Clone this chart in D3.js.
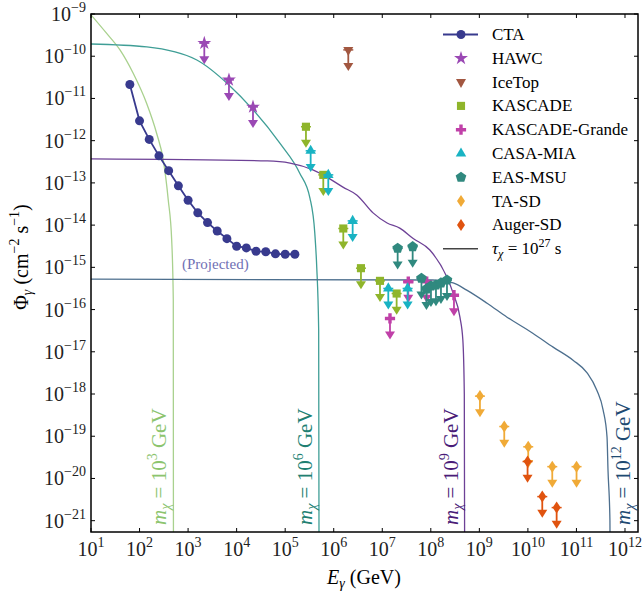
<!DOCTYPE html>
<html><head><meta charset="utf-8">
<script src="https://cdnjs.cloudflare.com/ajax/libs/d3/7.8.5/d3.min.js"></script>
<style>body{margin:0;background:#fff} svg{display:block}</style>
</head><body><svg id="c" width="642" height="591" font-family="Liberation Serif"></svg>
<script>
// ---------- DATA (log10 values) ----------
const xTickExps = [1,2,3,4,5,6,7,8,9,10,11,12];
const yTickExps = [-9,-10,-11,-12,-13,-14,-15,-16,-17,-18,-19,-20,-21];

const ctaLogE   = [1.8,2.0,2.2,2.4,2.6,2.8,3.0,3.2,3.4,3.6,3.8,4.0,4.2,4.4,4.6,4.8,5.0,5.2];
const ctaLogPhi = [-10.67,-11.53,-11.97,-12.36,-12.71,-13.07,-13.41,-13.71,-13.94,-14.14,-14.32,-14.50,-14.54,-14.62,-14.63,-14.68,-14.69,-14.69];

const hawcLogE = [3.334,3.842,4.337];
const hawcLogPhi = [-9.69,-10.56,-11.20];
const icetopLogE = [6.30];
const icetopLogPhi = [-9.85];
const kascadeLogE = [5.428,5.785,6.197,6.561,6.953,7.296];
const kascadeLogPhi = [-11.67,-12.81,-14.08,-15.02,-15.32,-15.62];
const kgLogE = [7.159,7.536,7.915,8.477];
const kgLogPhi = [-16.21,-15.34,-15.34,-15.66];
const casaLogE = [5.525,5.888,6.39,7.124,7.522];
const casaLogPhi = [-12.24,-12.81,-13.90,-15.50,-15.50];
const easLogE = [7.317,7.626,7.807,7.910,8.003,8.106,8.209,8.333];
const easLogPhi = [-14.55,-14.51,-15.26,-15.51,-15.44,-15.42,-15.37,-15.30];
const taLogE = [9.012,9.513,10.007,10.502,11.002];
const taLogPhi = [-18.05,-18.77,-19.25,-19.72,-19.72];
const augerLogE = [9.993,10.296,10.592];
const augerLogPhi = [-19.60,-20.43,-20.69];

// decay spectra, tau = 1e27 s  [logE, logPhi]
const curveM3 = [[1.0,-9.02],[1.323,-9.46],[1.597,-9.85],[1.872,-10.41],[2.147,-11.12],[2.353,-11.83],[2.489,-12.46],[2.592,-13.41],[2.662,-14.35],[2.695,-15.77],[2.699,-23]];
const curveM6 = [[1.0,-9.71],[2.15,-9.78],[3.18,-10.09],[3.84,-10.68],[4.34,-11.27],[4.89,-12.06],[5.30,-12.77],[5.51,-13.36],[5.61,-14.19],[5.65,-14.99],[5.69,-16.48],[5.699,-23]];
const curveM9 = [[1.0,-12.43],[4.63,-12.48],[5.10,-12.53],[5.57,-12.69],[5.78,-12.81],[6.19,-13.10],[6.48,-13.29],[6.81,-13.71],[7.10,-13.95],[7.36,-14.07],[7.63,-14.31],[7.98,-14.59],[8.33,-15.23],[8.46,-15.61],[8.60,-16.18],[8.66,-16.72],[8.69,-18],[8.699,-23]];
const curveM12 = [[1.0,-15.28],[8.04,-15.30],[8.46,-15.37],[8.74,-15.54],[9.16,-15.85],[9.57,-16.18],[10.10,-16.56],[10.52,-16.89],[10.93,-17.20],[11.22,-17.50],[11.42,-17.91],[11.55,-18.38],[11.63,-19.02],[11.65,-19.80],[11.69,-21],[11.699,-23]];
const massLabels = ["3","6","9","12"];
const legendNames = ["CTA","HAWC","IceTop","KASCADE","KASCADE-Grande","CASA-MIA","EAS-MSU","TA-SD","Auger-SD"];

// ---------- LAYOUT ----------
const svg = d3.select("#c");
const L=91, R=638, T=14, B=532;
const x = d3.scaleLog().domain([10, Math.pow(10,12.268)]).range([L,R]);
const y = d3.scaleLog().domain([Math.pow(10,-21.268), 1e-9]).range([B,T]);
const P = v => Math.pow(10,v);

svg.append("defs").append("clipPath").attr("id","clip")
  .append("rect").attr("x",L).attr("y",T).attr("width",R-L).attr("height",B-T);

const plot = svg.append("g").attr("clip-path","url(#clip)");

// curves
const curveCols = ["#a9d18e","#3f9e96","#6d4196","#4d6f8e"];
const labelCols = ["#8cc46e","#217f72","#4a1c78","#1e4a72"];
const line = d3.line().x(d=>x(P(d[0]))).y(d=>y(P(d[1]))).curve(d3.curveMonotoneX);
[curveM3,curveM6,curveM9,curveM12].forEach((c,i)=>{
  plot.append("path").attr("d",line(c)).attr("fill","none").attr("stroke",curveCols[i]).attr("stroke-width",1.3);
});

// mass labels (rotated)
const massE = [2.699,5.699,8.699,11.699];
massLabels.forEach((m,i)=>{
  const lx = x(P(massE[i])) + (i==3 ? 20 : -7);
  const t = svg.append("text").attr("transform",`translate(${lx},525) rotate(-90)`)
    .attr("fill",labelCols[i]).attr("font-size",21);
  t.append("tspan").attr("font-style","italic").text("m");
  t.append("tspan").attr("font-style","italic").attr("font-size",14).attr("dy",4).text("χ");
  t.append("tspan").attr("dy",-4).text(" = 10");
  t.append("tspan").attr("font-size",14).attr("dy",-9).text(m);
  t.append("tspan").attr("dy",9).text(" GeV");
});

// CTA
const cta = ctaLogE.map((e,i)=>[e,ctaLogPhi[i]]);
const CTAcol="#383a8e";
plot.append("path").attr("d",d3.line().x(d=>x(P(d[0]))).y(d=>y(P(d[1])))(cta))
  .attr("fill","none").attr("stroke",CTAcol).attr("stroke-width",1.8);
plot.selectAll(".cta").data(cta).enter().append("circle")
  .attr("cx",d=>x(P(d[0]))).attr("cy",d=>y(P(d[1]))).attr("r",4.5).attr("fill",CTAcol);

svg.append("text").attr("x",182).attr("y",269).attr("font-size",15).attr("fill","#7070b4").text("(Projected)");

// symbol paths
function pentagon(r){let p=[];for(let k=0;k<5;k++){const a=-Math.PI/2+k*2*Math.PI/5;p.push([r*Math.cos(a),r*Math.sin(a)]);}return "M"+p.map(q=>q.join(",")).join("L")+"Z";}
function diamond(w,h){return `M0,${-h/2}L${w/2},0L0,${h/2}L${-w/2},0Z`;}
function triDown(w,h){return `M${-w/2},${-h/3}L${w/2},${-h/3}L0,${2*h/3}Z`;}
const sym = {
  star: d3.symbol(d3.symbolStar,60)(),
  square: d3.symbol(d3.symbolSquare,66)(),
  cross: d3.symbol(d3.symbolCross,58)(),
  triUp: d3.symbol(d3.symbolTriangle,48)(),
  pent: pentagon(5.6),
  diam: diamond(8,12),
  triDown: triDown(10,9)
};

const experiments = [
  {name:"HAWC",e:hawcLogE,p:hawcLogPhi,col:"#9a48b4",s:"star"},
  {name:"IceTop",e:icetopLogE,p:icetopLogPhi,col:"#a25740",s:"triDown"},
  {name:"KASCADE",e:kascadeLogE,p:kascadeLogPhi,col:"#8fb52b",s:"square"},
  {name:"KASCADE-Grande",e:kgLogE,p:kgLogPhi,col:"#c040a8",s:"cross"},
  {name:"CASA-MIA",e:casaLogE,p:casaLogPhi,col:"#19b3c3",s:"triUp"},
  {name:"EAS-MSU",e:easLogE,p:easLogPhi,col:"#30897f",s:"pent"},
  {name:"TA-SD",e:taLogE,p:taLogPhi,col:"#f0aa37",s:"diam"},
  {name:"Auger-SD",e:augerLogE,p:augerLogPhi,col:"#e0530f",s:"diam"}
];
const arrowDec = 0.5;
experiments.forEach(ex=>{
  ex.e.forEach((e,i)=>{
    const px=x(P(e)), py=y(P(ex.p[i])), pt=y(P(ex.p[i]-arrowDec));
    const g=plot.append("g").attr("fill",ex.col).attr("stroke",ex.col);
    g.append("line").attr("x1",px).attr("x2",px).attr("y1",py).attr("y2",pt-6).attr("stroke-width",1.8);
    g.append("path").attr("d",`M${px-5},${pt-8}L${px+5},${pt-8}L${px},${pt}Z`).attr("stroke","none");
    g.append("line").attr("x1",px-5).attr("x2",px+5).attr("y1",py).attr("y2",py).attr("stroke-width",1.5);
    g.append("path").attr("d",sym[ex.s]).attr("transform",`translate(${px},${py})`).attr("stroke","none");
  });
});

// axes frame & ticks
svg.append("rect").attr("x",L).attr("y",T).attr("width",R-L).attr("height",B-T)
  .attr("fill","none").attr("stroke","#000").attr("stroke-width",1.5);
const tl=4;
xTickExps.forEach(k=>{
  const px=x(P(k));
  svg.append("line").attr("x1",px).attr("x2",px).attr("y1",B).attr("y2",B-tl).attr("stroke","#000");
  svg.append("line").attr("x1",px).attr("x2",px).attr("y1",T).attr("y2",T+tl).attr("stroke","#000");
  const t=svg.append("text").attr("x",px).attr("y",556).attr("text-anchor","middle").attr("font-size",20).attr("fill","#222");
  t.append("tspan").text("10");
  t.append("tspan").attr("font-size",14).attr("dy",-9).text(k);
});
yTickExps.forEach(k=>{
  const py=y(P(k));
  svg.append("line").attr("x1",L).attr("x2",L+tl).attr("y1",py).attr("y2",py).attr("stroke","#000");
  svg.append("line").attr("x1",R).attr("x2",R-tl).attr("y1",py).attr("y2",py).attr("stroke","#000");
  const t=svg.append("text").attr("x",86).attr("y",py+7).attr("text-anchor","end").attr("font-size",20).attr("fill","#222");
  t.append("tspan").text("10");
  t.append("tspan").attr("font-size",14).attr("dy",-9).text("−"+(-k));
});

// axis labels
const xl=svg.append("text").attr("x",364).attr("y",584).attr("text-anchor","middle").attr("font-size",20);
xl.append("tspan").attr("font-style","italic").text("E");
xl.append("tspan").attr("font-style","italic").attr("font-size",14).attr("dy",4).text("γ");
xl.append("tspan").attr("dy",-4).text(" (GeV)");
const yl=svg.append("text").attr("transform","translate(28,257) rotate(-90)").attr("text-anchor","middle").attr("font-size",20);
yl.append("tspan").text("Φ");
yl.append("tspan").attr("font-style","italic").attr("font-size",14).attr("dy",4).text("γ");
yl.append("tspan").attr("dy",-4).text(" (cm");
yl.append("tspan").attr("font-size",14).attr("dy",-9).text("−2");
yl.append("tspan").attr("dy",9).text(" s");
yl.append("tspan").attr("font-size",14).attr("dy",-9).text("−1");
yl.append("tspan").attr("dy",9).text(")");

// legend
const lx0=443, lx1=478, lmx=461, ltx=492, ly0=34.5, lstep=23.8;
const lg=svg.append("g");
lg.append("line").attr("x1",lx0).attr("x2",lx1).attr("y1",ly0).attr("y2",ly0).attr("stroke",CTAcol).attr("stroke-width",1.8);
lg.append("circle").attr("cx",lmx).attr("cy",ly0).attr("r",4.5).attr("fill",CTAcol);
lg.append("text").attr("x",ltx).attr("y",ly0+5.5).attr("font-size",17).text(legendNames[0]);
experiments.forEach((ex,i)=>{
  const ly=ly0+(i+1)*lstep;
  lg.append("path").attr("d",sym[ex.s]).attr("transform",`translate(${lmx},${ly})`).attr("fill",ex.col);
  lg.append("text").attr("x",ltx).attr("y",ly+5.5).attr("font-size",17).text(legendNames[i+1]);
});
const tly=ly0+9*lstep;
lg.append("line").attr("x1",lx0).attr("x2",lx1).attr("y1",tly).attr("y2",tly).attr("stroke","#444").attr("stroke-width",1.5);
const tt=lg.append("text").attr("x",ltx).attr("y",tly+5.5).attr("font-size",17);
tt.append("tspan").attr("font-style","italic").text("τ");
tt.append("tspan").attr("font-style","italic").attr("font-size",12).attr("dy",4).text("χ");
tt.append("tspan").attr("dy",-4).text(" = 10");
tt.append("tspan").attr("font-size",12).attr("dy",-7).text("27");
tt.append("tspan").attr("dy",7).text(" s");
</script></body></html>
